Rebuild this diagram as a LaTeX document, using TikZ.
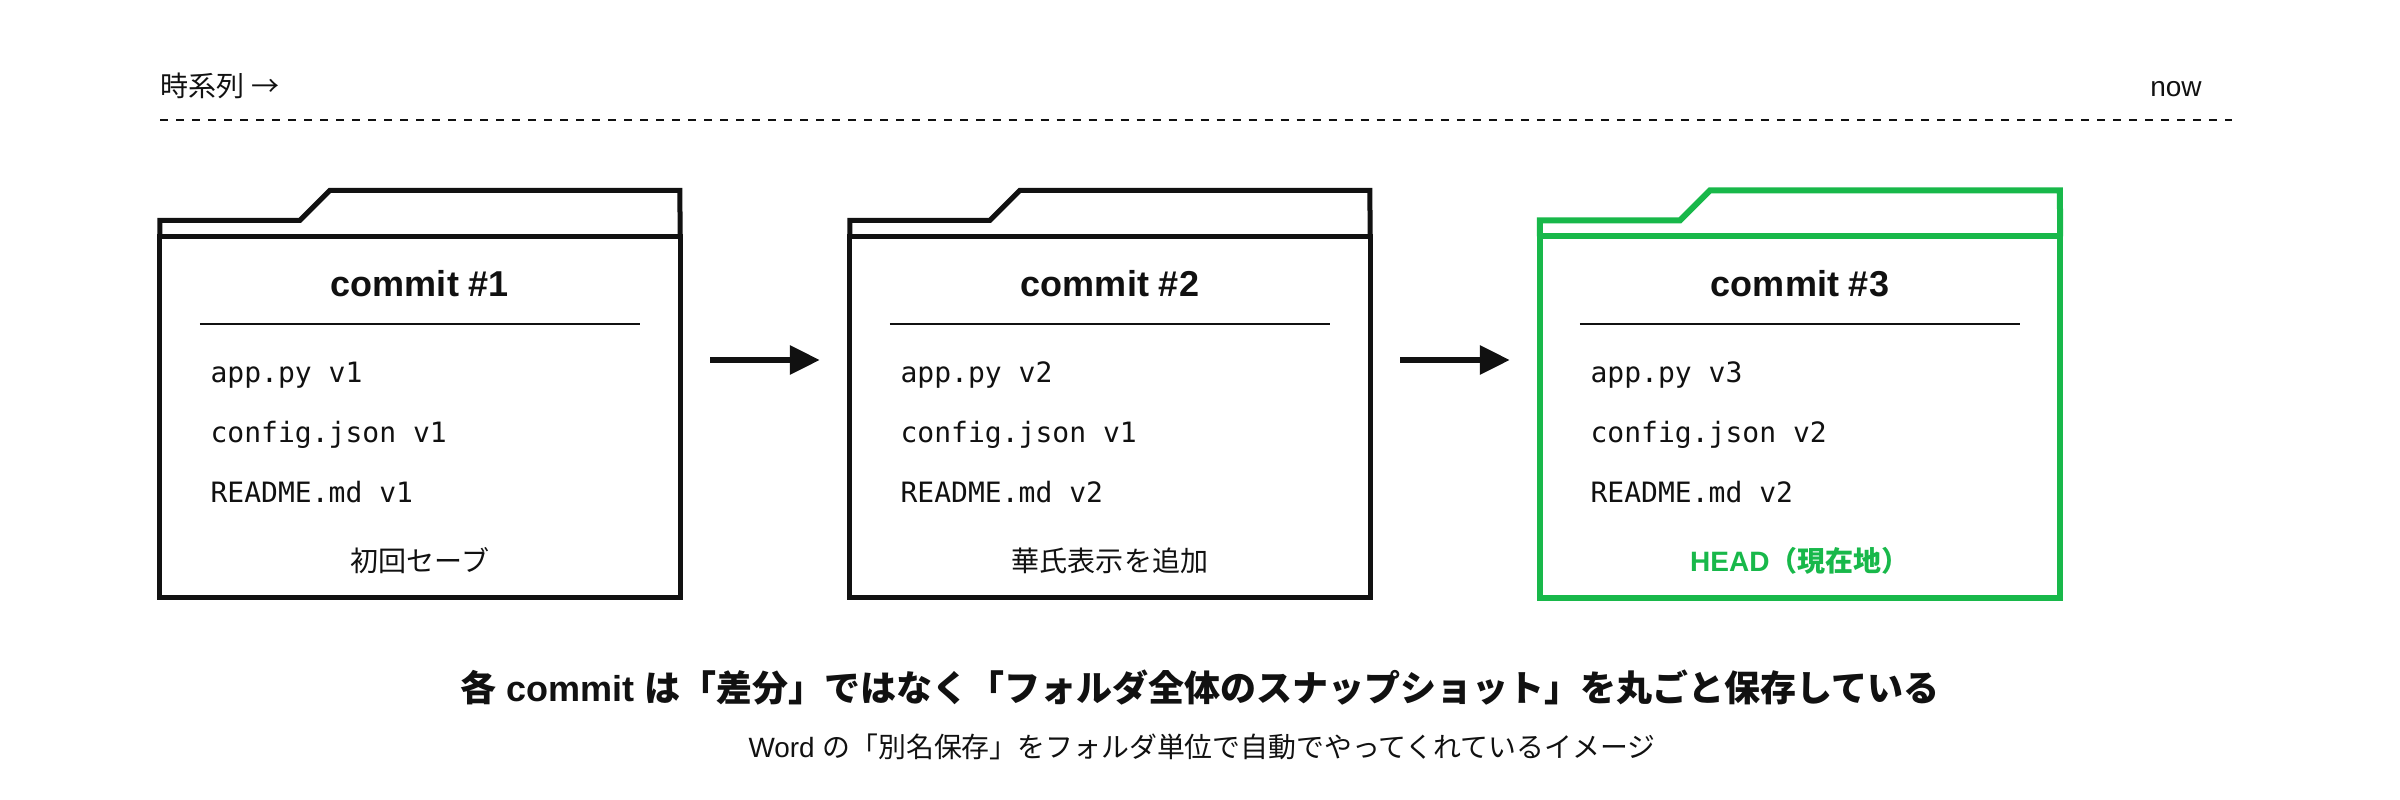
\documentclass[tikz,border=0pt]{standalone}
\usepackage{fontspec}
\setmainfont{Liberation Sans}
\setmonofont{DejaVu Sans Mono}
\newfontfamily\jp{Noto Sans CJK JP}
\usepackage{tikz}
\usetikzlibrary{arrows.meta,calc}
\definecolor{ink}{HTML}{111111}
\definecolor{headgreen}{HTML}{18B84A}

\begin{document}
\begin{tikzpicture}[x=0.01cm,y=-0.01cm,ink,text=ink,
  folder node/.style={draw,rectangle,inner sep=0,outer sep=0,line width=0.05cm,minimum width=5.2cm,minimum height=3.61cm},
  folder tab/.style={line width=0.05cm},
  title node/.style={anchor=base,inner sep=0,font=\fontsize{10.24}{12}\selectfont\bfseries},
  file node/.style={anchor=base west,inner sep=0,font=\fontsize{7.97}{10}\selectfont\ttfamily},
  small node/.style={anchor=base,inner sep=0,font=\fontsize{7.97}{10}\selectfont},
  next arrow/.style={line width=0.06cm,-{Triangle[length=0.3cm,width=0.28cm]},shorten >=0pt}]

\useasboundingbox (0,0) rectangle (2400,800);

\node[small node,anchor=base west](T1) at (160,96) {\jp 時系列 →};
\node[small node](T2) at (2176,96) {now};
\draw[line width=0.02cm,dash pattern=on 0.08cm off 0.08cm] (160,120) -- (2232,120);

\node[folder node](F1) at (420,417) {};
\node[folder node](F2) at (1110,417) {};
\node[folder node,headgreen,line width=0.06cm](F3) at (1800,417) {};

\draw[folder tab] (F1.north west) -- ++(0,-16) -- ++(140,0) -- ++(30,-30) -- ++(350,0) -- (F1.north east);
\draw[folder tab] (F2.north west) -- ++(0,-16) -- ++(140,0) -- ++(30,-30) -- ++(350,0) -- (F2.north east);
\draw[folder tab,headgreen,line width=0.06cm] (F3.north west) -- ++(0,-16) -- ++(140,0) -- ++(30,-30) -- ++(350,0) -- (F3.north east);

\node[title node](C1) at ($(F1.north)+(0,60)$) {commit \#1};
\node[title node](C2) at ($(F2.north)+(0,60)$) {commit \#2};
\node[title node](C3) at ($(F3.north)+(0,60)$) {commit \#3};

\draw[line width=0.02cm] ($(F1.north west)+(40,88)$) -- ($(F1.north east)+(-40,88)$);
\draw[line width=0.02cm] ($(F2.north west)+(40,88)$) -- ($(F2.north east)+(-40,88)$);
\draw[line width=0.02cm] ($(F3.north west)+(40,88)$) -- ($(F3.north east)+(-40,88)$);

\node[file node](A1) at ($(F1.north west)+(50,146)$) {app.py v1};
\node[file node](J1) at ($(A1.base west)+(0,60)$) {config.json v1};
\node[file node](R1) at ($(J1.base west)+(0,60)$) {README.md v1};
\node[small node](N1) at ($(F1.north)+(0,335)$) {\jp 初回セーブ};

\node[file node](A2) at ($(F2.north west)+(50,146)$) {app.py v2};
\node[file node](J2) at ($(A2.base west)+(0,60)$) {config.json v1};
\node[file node](R2) at ($(J2.base west)+(0,60)$) {README.md v2};
\node[small node](N2) at ($(F2.north)+(0,335)$) {\jp 華氏表示を追加};

\node[file node](A3) at ($(F3.north west)+(50,146)$) {app.py v3};
\node[file node](J3) at ($(A3.base west)+(0,60)$) {config.json v2};
\node[file node](R3) at ($(J3.base west)+(0,60)$) {README.md v2};
\node[small node,text=headgreen,font=\fontsize{7.97}{10}\selectfont\bfseries](N3) at ($(F3.north)+(0,335)$) {HEAD{\jp （現在地）}};

\coordinate (S1) at ($(F1.east)+(30,-57)$);
\coordinate (E1) at ($(F2.west)+(-30,-57)$);
\coordinate (S2) at ($(F2.east)+(30,-57)$);
\coordinate (E2) at ($(F3.west)+(-30,-57)$);

\path
(S1) edge[next arrow] (E1)
(S2) edge[next arrow] (E2);

\node[anchor=base,inner sep=0,font=\fontsize{10.24}{13}\selectfont\bfseries](M1) at (1200,701) {{\jp 各} commit {\jp は「差分」ではなく「フォルダ全体のスナップショット」を丸ごと保存している}};
\node[small node,font=\fontsize{7.93}{10}\selectfont](M2) at (1202,757) {Word {\jp の「別名保存」をフォルダ単位で自動でやってくれているイメージ}};

\end{tikzpicture}
\end{document}
